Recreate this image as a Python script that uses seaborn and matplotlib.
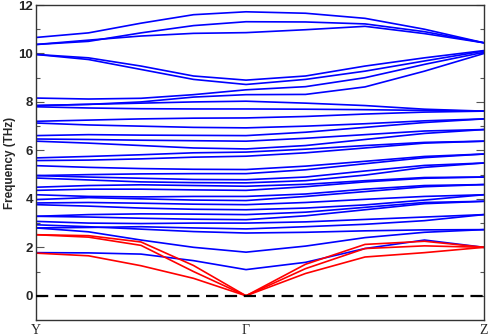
import numpy as np
import pandas as pd
import matplotlib
matplotlib.use("Agg")
import matplotlib.pyplot as plt
import seaborn as sns

# high-symmetry path and relative segment lengths
kpath_labels = ["Y", "\u0393", "Z"]
segment_lengths = [1.0, 1.133]
points_per_segment = 5  # Y, 1/4, 1/2, 3/4, Gamma (then same for Gamma-Z)

# frequencies (THz) read at Y, 1/4, 1/2, 3/4, Gamma, 1/4, 1/2, 3/4, Z
acoustic_bands = [
    [2.52, 2.48, 2.22, 1.25, 0.00, 1.30, 2.12, 2.25, 2.00],
    [2.52, 2.42, 2.08, 1.00, 0.00, 1.12, 1.95, 2.06, 2.00],
    [1.76, 1.65, 1.24, 0.72, 0.00, 0.92, 1.60, 1.78, 2.00],
]

optical_bands = [
    [1.78, 1.77, 1.72, 1.45, 1.08, 1.38, 1.95, 2.30, 2.00],
    [2.80, 2.64, 2.30, 2.00, 1.80, 2.05, 2.40, 2.62, 2.73],
    [2.93, 2.85, 2.75, 2.65, 2.59, 2.62, 2.68, 2.72, 2.73],
    [2.80, 2.82, 2.85, 2.80, 2.76, 2.85, 2.95, 3.10, 3.35],
    [3.07, 3.00, 2.98, 3.00, 3.00, 3.05, 3.15, 3.25, 3.35],
    [3.28, 3.25, 3.20, 3.16, 3.14, 3.30, 3.55, 3.80, 3.90],
    [3.28, 3.35, 3.38, 3.37, 3.35, 3.45, 3.65, 3.85, 3.90],
    [3.76, 3.70, 3.62, 3.57, 3.55, 3.62, 3.75, 3.95, 4.17],
    [3.83, 3.85, 3.82, 3.78, 3.76, 3.85, 3.98, 4.10, 4.17],
    [3.97, 4.05, 4.00, 3.95, 3.93, 4.10, 4.30, 4.50, 4.59],
    [4.17, 4.10, 4.08, 4.10, 4.10, 4.20, 4.40, 4.55, 4.59],
    [4.35, 4.40, 4.40, 4.37, 4.35, 4.50, 4.70, 4.85, 4.90],
    [4.48, 4.55, 4.58, 4.55, 4.52, 4.60, 4.75, 4.88, 4.90],
    [4.86, 4.78, 4.70, 4.67, 4.66, 4.75, 4.98, 5.30, 5.48],
    [4.96, 4.90, 4.85, 4.80, 4.79, 4.90, 5.15, 5.38, 5.48],
    [4.96, 5.00, 5.03, 5.04, 5.04, 5.20, 5.45, 5.70, 5.85],
    [5.37, 5.30, 5.25, 5.22, 5.21, 5.35, 5.55, 5.75, 5.85],
    [5.58, 5.60, 5.65, 5.72, 5.76, 5.90, 6.10, 6.30, 6.38],
    [5.69, 5.75, 5.82, 5.90, 5.93, 6.05, 6.20, 6.33, 6.38],
    [6.38, 6.30, 6.20, 6.10, 6.06, 6.20, 6.45, 6.70, 6.86],
    [6.47, 6.45, 6.42, 6.40, 6.38, 6.50, 6.65, 6.80, 6.86],
    [6.61, 6.65, 6.63, 6.62, 6.61, 6.75, 6.95, 7.15, 7.30],
    [7.13, 7.05, 7.00, 6.95, 6.93, 7.00, 7.10, 7.22, 7.30],
    [7.20, 7.25, 7.30, 7.33, 7.34, 7.40, 7.50, 7.58, 7.62],
    [7.80, 7.75, 7.72, 7.71, 7.71, 7.70, 7.68, 7.65, 7.62],
    [7.85, 7.90, 7.95, 8.00, 8.03, 7.95, 7.85, 7.70, 7.62],
    [7.85, 7.90, 8.00, 8.20, 8.30, 8.31, 8.62, 9.27, 10.00],
    [8.16, 8.12, 8.15, 8.30, 8.50, 8.63, 9.00, 9.55, 10.05],
    [9.96, 9.75, 9.34, 8.93, 8.72, 8.93, 9.27, 9.69, 10.10],
    [9.96, 9.82, 9.48, 9.07, 8.90, 9.07, 9.48, 9.82, 10.12],
    [10.37, 10.55, 10.72, 10.83, 10.86, 10.98, 11.12, 10.82, 10.44],
    [10.37, 10.50, 10.85, 11.15, 11.31, 11.30, 11.22, 10.90, 10.44],
    [10.66, 10.85, 11.25, 11.60, 11.72, 11.66, 11.45, 11.00, 10.44],
]

# x positions along the path
seg1 = np.linspace(0, segment_lengths[0], points_per_segment)
seg2 = np.linspace(0, segment_lengths[1], points_per_segment)[1:] + segment_lengths[0]
kdist = np.concatenate([seg1, seg2])
ticks_k = [0, segment_lengths[0], sum(segment_lengths)]

rows = []
for i, band in enumerate(acoustic_bands):
    for k, f in zip(kdist, band):
        rows.append({"k": k, "freq": f, "band": f"a{i}", "branch": "acoustic"})
for i, band in enumerate(optical_bands):
    for k, f in zip(kdist, band):
        rows.append({"k": k, "freq": f, "band": f"o{i}", "branch": "optical"})
df = pd.DataFrame(rows)

sns.set_style("ticks")
plt.rcParams["font.family"] = ["Liberation Sans", "DejaVu Sans"]

fig = plt.figure(figsize=(4.91, 3.36), dpi=100)
ax = fig.add_axes([0.0733, 0.0476, 0.9124, 0.9375])

# optical first, acoustic drawn on top
sns.lineplot(data=df[df.branch == "optical"], x="k", y="freq", units="band",
             estimator=None, color="#0000ff", lw=1.2, sort=False, ax=ax)
sns.lineplot(data=df[df.branch == "acoustic"], x="k", y="freq", units="band",
             estimator=None, color="#ff0000", lw=1.2, sort=False, ax=ax)

ax.axhline(0, color="black", lw=1.6, ls=(0, (5.5, 3)), zorder=5)

ax.set_xlim(ticks_k[0], ticks_k[-1])
ax.set_ylim(-1, 12)
ax.set_xticks(ticks_k)
ax.set_xticklabels(kpath_labels, family="Liberation Serif", fontsize=10)
ax.tick_params(axis="x", length=0, pad=3)

ax.set_yticks(np.arange(0, 13, 2))
ax.set_yticks(np.arange(1, 12, 2), minor=True)
ax.tick_params(axis="y", which="major", direction="in", length=6, width=0.8,
               color="#555555", right=True, labelsize=9.5, pad=2)
ax.tick_params(axis="y", which="minor", direction="in", length=3, width=0.8,
               color="#555555", right=True)
for lbl in ax.get_yticklabels():
    lbl.set_fontweight("bold")

for sp in ax.spines.values():
    sp.set_visible(True)
    sp.set_color("#333333")
    sp.set_linewidth(1.0)

ax.set_xlabel("")
ax.set_ylabel("Frequency (THz)", fontsize=8.5, fontweight="bold", labelpad=2)

fig.savefig("out.png", dpi=100)
